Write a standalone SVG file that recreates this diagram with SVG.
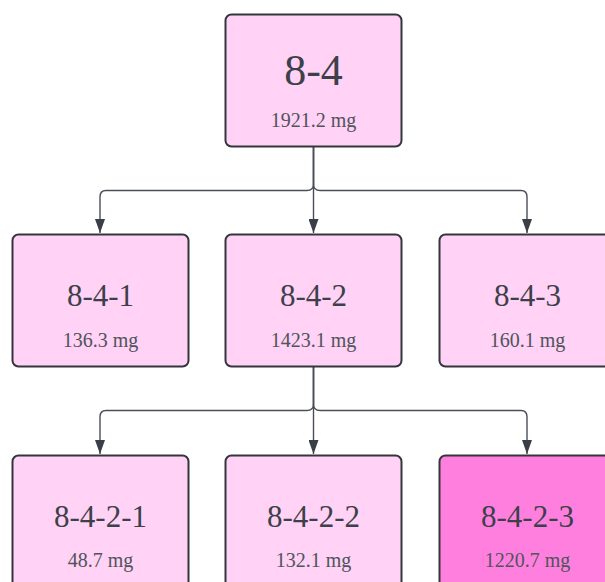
<svg xmlns="http://www.w3.org/2000/svg" width="605" height="582" viewBox="0 0 605 582">
<style>
.box{fill:#ffd2f6;stroke:#33363b;stroke-width:2}
.hot{fill:#ff7fdf;stroke:#33363b;stroke-width:2}
.t{font-family:"Liberation Serif","DejaVu Serif",serif;fill:#3c4048;text-anchor:middle}
.big{font-size:44px}
.mid{font-size:31px}
.sub{font-size:20px;fill:#50545b}
.c{fill:none;stroke:#4a4f57;stroke-width:1.4}
</style>
<defs>
<marker id="ah" viewBox="0 0 14 10" refX="14" refY="5" markerWidth="14" markerHeight="10" markerUnits="userSpaceOnUse" orient="auto">
<path d="M0,0 L14,5 L0,10 Z" fill="#3a3f47"/>
</marker>
</defs>
<rect width="605" height="582" fill="#ffffff"/>
<g id="connectors">
<path class="c" d="M313.5,147 V233" marker-end="url(#ah)"/>
<path class="c" d="M313.5,147 V184 Q313.5,190.5 307,190.5 H106 Q100,190.5 100,197 V233" marker-end="url(#ah)"/>
<path class="c" d="M313.5,147 V184 Q313.5,190.5 320,190.5 H521 Q527,190.5 527,197 V233" marker-end="url(#ah)"/>
<path class="c" d="M313.5,367 V454" marker-end="url(#ah)"/>
<path class="c" d="M313.5,367 V404 Q313.5,410.5 307,410.5 H106 Q100,410.5 100,417 V454" marker-end="url(#ah)"/>
<path class="c" d="M313.5,367 V404 Q313.5,410.5 320,410.5 H521 Q527,410.5 527,417 V454" marker-end="url(#ah)"/>
</g>
<g id="n-8-4">
<rect class="box" x="225.5" y="14.5" width="176" height="132" rx="6"/>
<text class="t big" x="313.5" y="85">8-4</text>
<text class="t sub" x="313.5" y="127">1921.2 mg</text>
</g>
<g id="n-8-4-1">
<rect class="box" x="12.5" y="234.5" width="176" height="132" rx="6"/>
<text class="t mid" x="100.5" y="306">8-4-1</text>
<text class="t sub" x="100.5" y="347">136.3 mg</text>
</g>
<g id="n-8-4-2">
<rect class="box" x="225.5" y="234.5" width="176" height="132" rx="6"/>
<text class="t mid" x="313.5" y="306">8-4-2</text>
<text class="t sub" x="313.5" y="347">1423.1 mg</text>
</g>
<g id="n-8-4-3">
<rect class="box" x="439.5" y="234.5" width="176" height="132" rx="6"/>
<text class="t mid" x="527.5" y="306">8-4-3</text>
<text class="t sub" x="527.5" y="347">160.1 mg</text>
</g>
<g id="n-8-4-2-1">
<rect class="box" x="12.5" y="455.5" width="176" height="132" rx="6"/>
<text class="t mid" x="100.5" y="527">8-4-2-1</text>
<text class="t sub" x="100.5" y="567">48.7 mg</text>
</g>
<g id="n-8-4-2-2">
<rect class="box" x="225.5" y="455.5" width="176" height="132" rx="6"/>
<text class="t mid" x="313.5" y="527">8-4-2-2</text>
<text class="t sub" x="313.5" y="567">132.1 mg</text>
</g>
<g id="n-8-4-2-3">
<rect class="hot" x="439.5" y="455.5" width="176" height="132" rx="6"/>
<text class="t mid" x="527.5" y="527">8-4-2-3</text>
<text class="t sub" x="527.5" y="567">1220.7 mg</text>
</g>
</svg>
